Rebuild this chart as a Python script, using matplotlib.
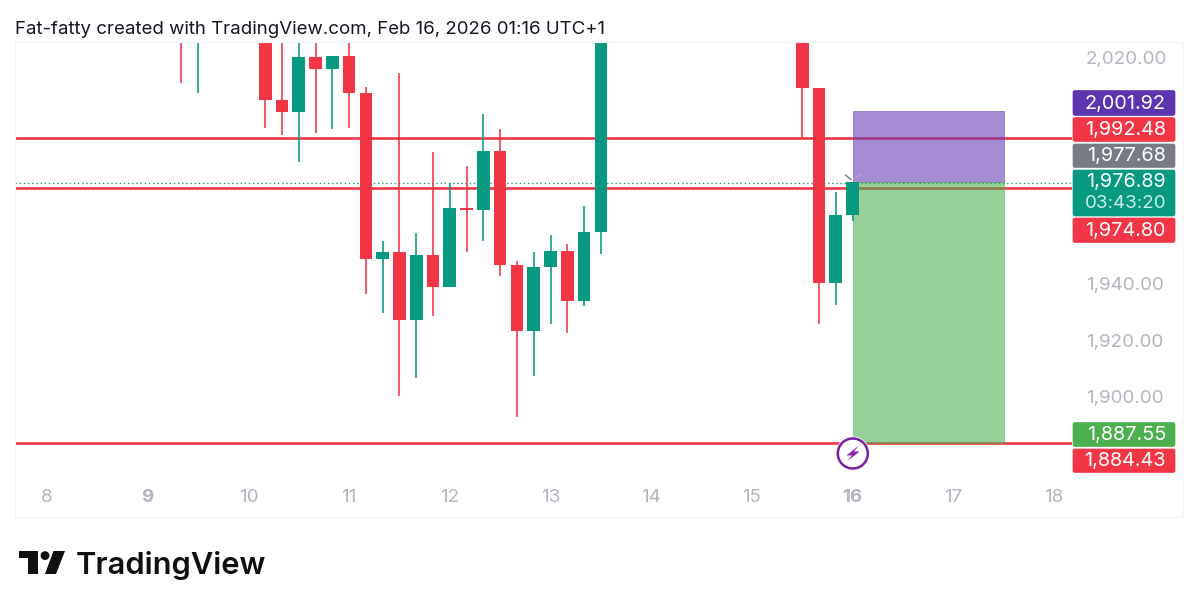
import matplotlib
matplotlib.use("Agg")
import matplotlib.pyplot as plt
from matplotlib.patches import Rectangle, FancyBboxPatch, Polygon, Circle
from matplotlib.transforms import ScaledTranslation

W, H = 1199, 610
RED, TEAL = "#F23645", "#089981"
FONT = "Inter"

days = [9.3333, 9.5, 10.1667, 10.3333, 10.5, 10.6667, 10.8333, 11.0, 11.1667, 11.3333, 11.5, 11.6667,
        11.8333, 12.0, 12.1667, 12.3333, 12.5, 12.6667, 12.8333, 13.0, 13.1667, 13.3333, 13.5,
        15.5, 15.6667, 15.8333, 16.0]
opens = [2050, 2032, 2045, 2005.9, 2001.7, 2021.1, 2016.8, 2021.4, 2008.3, 1949.4, 1952.1, 1927.9,
         1950.9, 1939.8, 1967.6, 1966.9, 1987.7, 1947.3, 1924.1, 1946.9, 1952.3, 1934.6, 1959.1,
         2040, 2010.2, 1940.9, 1965.3]
closes = [2035, 2045, 2005.9, 2001.7, 2021.1, 2016.8, 2021.4, 2008.3, 1949.4, 1952.1, 1927.9, 1950.9,
          1939.8, 1967.6, 1966.9, 1987.7, 1947.3, 1924.1, 1946.9, 1952.3, 1934.6, 1959.1, 2040,
          2010.2, 1940.9, 1965.3, 1976.89]
highs = [2060, 2050, 2050, 2035, 2030, 2030, 2021.5, 2030, 2010.3, 1955.9, 2015.3, 1958.9,
         1987.3, 1976.6, 1982.4, 2000.8, 1995.4, 1948.9, 1952.1, 1957.9, 1954.7, 1968.3, 2050,
         2050, 2010.2, 1973.3, 1976.89]
lows = [2011.9, 2008.2, 1996.1, 1993.5, 1983.8, 1994.2, 1995.5, 1996.0, 1937.0, 1930.3, 1901.1, 1907.3,
        1929.3, 1939.8, 1952.1, 1956.0, 1943.5, 1893.7, 1908.1, 1926.7, 1923.2, 1932.8, 1951.5,
        1992.5, 1926.7, 1933.3, 1963.1]

support_levels = [1992.48, 1974.80, 1884.43]
current_price = 1976.89
target_price = 2001.92
stop_price = 1884.43
position_start, position_end = 16.0, 17.5
price_ticks = [2020, 1940, 1920, 1900]
date_ticks = [8, 9, 10, 11, 12, 13, 14, 15, 16, 17, 18]
bold_dates = [9, 16]

label_texts = ["2,001.92", "1,992.48", "1,977.68", "1,976.89\n03:43:20", "1,974.80", "1,887.55", "1,884.43"]
label_colors = ["#5E35B1", RED, "#787B86", TEAL, RED, "#4CAF50", RED]
label_tops = [90, 117, 143.5, 169.5, 217.5, 422, 448.5]
label_bottoms = [116, 142, 168, 216.5, 243, 447, 473]

title = "Fat-fatty created with TradingView.com, Feb 16, 2026 01:16 UTC+1"

fig = plt.figure(figsize=(W / 100, H / 100), dpi=100, facecolor="white")
L, R, T, B = 15, 1071.5, 42, 480
ax = fig.add_axes([L / W, 1 - B / H, (R - L) / W, (B - T) / H])
PXD, PXP = 100.7, 2.825
ax.set_xlim(8 - (47 - L) / PXD, 8 + (R - 47) / PXD)
ax.set_ylim(2020 - (B - 60) / PXP, 2020 + (60 - T) / PXP)
for s in ax.spines.values():
    s.set_visible(False)

# levels, position tool, candles
for lv in support_levels:
    ax.axhline(lv, color=RED, lw=1.9, zorder=1)
ax.axhline(current_price - 0.4, color=TEAL, lw=1, ls=(0, (1, 2)), zorder=1.2)
ax.add_patch(Rectangle((position_start, current_price), position_end - position_start, target_price - current_price,
                       fc="#673AB7", alpha=0.58, ec="#673AB7", lw=0.6, zorder=2))
ax.add_patch(Rectangle((position_start, stop_price), position_end - position_start, current_price - stop_price,
                       fc="#4CAF50", alpha=0.58, ec="#4CAF50", lw=0.6, zorder=2))
colors = [TEAL if c >= o else RED for o, c in zip(opens, closes)]
ax.vlines(days, lows, highs, colors=colors, lw=1.15, zorder=3)
ax.bar(days, [max(abs(c - o), 0.6) for o, c in zip(opens, closes)],
       bottom=[min(o, c) for o, c in zip(opens, closes)], width=0.126, color=colors, zorder=4)

ax.yaxis.tick_right()
ax.set_yticks(price_ticks, [f"{v:,.2f}" for v in price_ticks])
ax.set_xticks(date_ticks, [str(d) for d in date_ticks])
ax.tick_params(axis="y", length=0, pad=10.5, labelsize=13.5, labelcolor="#B2B5BE")
ax.tick_params(axis="x", length=0, pad=6.3, labelsize=13.5, labelcolor="#B2B5BE")
for t in ax.get_yticklabels() + ax.get_xticklabels():
    t.set_fontfamily(FONT)
for t, d in zip(ax.get_xticklabels(), date_ticks):
    if d in bold_dates:
        t.set_fontweight("bold")
for t in ax.get_yticklabels():
    t.set_transform(t.get_transform() + ScaledTranslation(0, 1.5 / 72, fig.dpi_scale_trans))

# overlay in pixel coordinates
ov = fig.add_axes([0, 0, 1, 1], facecolor="none")
ov.set_xlim(0, W)
ov.set_ylim(H, 0)
ov.axis("off")
ov.add_patch(Rectangle((15, 42), 1168, 474.5, fc="none", ec="#F0F3FA", lw=0.8))
ov.text(15, 29, title, fontsize=13.43, family=FONT, color="#131722", va="center", ha="left")

for txt, col, top, bot in zip(label_texts, label_colors, label_tops, label_bottoms):
    ov.add_patch(FancyBboxPatch((1073.5, top + 1), 101, bot - top - 2, boxstyle="round,pad=0,rounding_size=1.5",
                                fc=col, ec=col, lw=1.2))
    parts = txt.split("\n")
    if len(parts) == 1:
        ov.text(1166, (top + bot) / 2 + 0.5, txt, color="white", fontsize=14.3, family=FONT, ha="right", va="center")
    else:
        ov.text(1166, top + 13, parts[0], color="white", fontsize=14.3, family=FONT, ha="right", va="center")
        ov.text(1166, top + 34, parts[1], color="#C8F0E8", fontsize=13.5, family=FONT, ha="right", va="center")

# small arrows at the last candle
ov.plot([845.5, 851], [175, 179.5], color="#787B86", lw=1)
ov.plot([857, 860], [177, 174.5], color="#B2B5BE", lw=0.8)

# event marker
ov.add_patch(Circle((852.8, 453.5), 17, fc="white", ec="none"))
ov.add_patch(Circle((852.8, 453.5), 15, fc="white", ec="#7B1FA2", lw=1.8))
ov.add_patch(Polygon([(859, 445.5), (846.5, 455.5), (852, 455.5), (847, 461.5), (859.5, 451.5), (854, 451.5)],
                     fc="#8E24AA", ec="none"))

# TradingView logo
LOGO = "#101010"
ov.add_patch(Polygon([(18.5, 551), (37.7, 551), (37.7, 574), (27.8, 574), (27.8, 558.3), (18.5, 558.3)], fc=LOGO, ec="none"))
ov.add_patch(Circle((45, 555.6), 4.4, fc=LOGO, ec="none"))
ov.add_patch(Polygon([(53.5, 551), (65, 551), (56, 574), (45, 574)], fc=LOGO, ec="none"))
ov.text(76, 574, "TradingView", fontsize=22.2, family=FONT, fontweight="semibold", color=LOGO, ha="left", va="baseline")

fig.savefig("out.png", dpi=100, facecolor="white")
